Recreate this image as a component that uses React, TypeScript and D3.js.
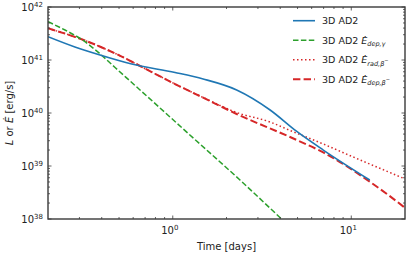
import React, { useEffect, useRef } from 'react';
import * as d3 from 'd3';

// 3D AD2 luminosity
const blueT = [0.2, 0.283, 0.383, 0.589, 1.03, 1.48, 2.28, 3.51, 4.95, 6.97, 12.7];
const blueL = [2.75e41, 1.76e41, 1.27e41, 8.4e40, 5.81e40, 4.38e40, 2.72e40, 1.14e40, 4.48e39, 2.0e39, 5.44e38];

// gamma deposition
const gammaT = [0.2, 0.249, 0.309, 0.383, 0.475, 0.589, 0.965, 1.36, 2.38, 4.07, 5.16];
const gammaL = [5.28e41, 3.68e41, 2.44e41, 1.39e41, 7.22e40, 3.76e40, 8.41e39, 2.96e39, 5.44e38, 1.0e38, 4.77e37];

// beta radiated
const betaRadT = [0.2, 0.322, 0.518, 0.727, 1.03, 1.52, 2.28, 3.51, 4.54, 6.97, 10.7, 19.6, 20];
const betaRadL = [3.96e41, 2.33e41, 1.16e41, 6.42e40, 3.52e40, 1.88e40, 1.02e40, 6.76e39, 4.68e39, 2.6e39, 1.39e39, 5.86e38, 5.69e38];

// beta deposited
const betaDepT = [0.2, 0.322, 0.518, 0.727, 1.03, 1.52, 2.28, 4.54, 6.97, 12.7, 19.6, 20];
const betaDepL = [3.96e41, 2.33e41, 1.16e41, 6.42e40, 3.52e40, 1.86e40, 9.57e39, 3.52e39, 1.8e39, 5.06e38, 1.71e38, 1.62e38];

const yMajor = [38, 39, 40, 41, 42];
const xMajor = [0, 1];

const App = () => {
  const svgRef = useRef<SVGSVGElement>(null);

  useEffect(() => {
    const svg = d3.select(svgRef.current);
    svg.selectAll('*').remove();

    const width = 407;
    const height = 254;
    const margin = { top: 7, right: 2, bottom: 35, left: 48 };
    const x0 = margin.left, x1 = width - margin.right;
    const y0 = margin.top, y1 = height - margin.bottom;
    const font = 'DejaVu Sans, sans-serif';
    const axisColor = '#3a3a3a';

    const x = d3.scaleLog().domain([0.2, 20]).range([x0, x1]);
    const y = d3.scaleLog().domain([1e38, 1e42]).range([y1, y0]);

    svg.append('clipPath').attr('id', 'plotclip')
      .append('rect').attr('x', x0).attr('y', y0).attr('width', x1 - x0).attr('height', y1 - y0);

    const line = d3.line<[number, number]>()
      .x(d => x(d[0]))
      .y(d => y(d[1]))
      .curve(d3.curveMonotoneX);

    const series = [
      { t: betaRadT, v: betaRadL, color: '#d62728', width: 1.5, dash: '1.5,2.5' },
      { t: betaDepT, v: betaDepL, color: '#d62728', width: 2, dash: '7.4,3.2' },
      { t: gammaT, v: gammaL, color: '#2ca02c', width: 1.5, dash: '5.5,2.4' },
      { t: blueT, v: blueL, color: '#1f77b4', width: 1.6, dash: null },
    ];

    const plot = svg.append('g').attr('clip-path', 'url(#plotclip)');
    series.forEach(s => {
      plot.append('path')
        .datum(s.t.map((t, i) => [t, s.v[i]] as [number, number]))
        .attr('d', line)
        .attr('fill', 'none')
        .attr('stroke', s.color)
        .attr('stroke-width', s.width)
        .attr('stroke-dasharray', s.dash);
    });

    // ticks (inward, all four sides)
    const ticks = svg.append('g').attr('stroke', axisColor).attr('stroke-width', 0.8);
    const yMinor: number[] = [];
    for (let e = 38; e < 42; e++) for (let m = 2; m < 10; m++) yMinor.push(m * Math.pow(10, e));
    const xMinor: number[] = [];
    for (let e = -1; e < 2; e++) for (let m = 2; m < 10; m++) {
      const v = m * Math.pow(10, e);
      if (v > 0.2 && v < 20) xMinor.push(v);
    }
    yMajor.forEach(p => {
      const yy = y(Math.pow(10, p));
      ticks.append('line').attr('x1', x0).attr('x2', x0 + 3.5).attr('y1', yy).attr('y2', yy);
      ticks.append('line').attr('x1', x1).attr('x2', x1 - 3.5).attr('y1', yy).attr('y2', yy);
    });
    yMinor.forEach(v => {
      const yy = y(v);
      ticks.append('line').attr('x1', x0).attr('x2', x0 + 2).attr('y1', yy).attr('y2', yy);
      ticks.append('line').attr('x1', x1).attr('x2', x1 - 2).attr('y1', yy).attr('y2', yy);
    });
    xMajor.forEach(p => {
      const xx = x(Math.pow(10, p));
      ticks.append('line').attr('x1', xx).attr('x2', xx).attr('y1', y1).attr('y2', y1 - 3.5);
      ticks.append('line').attr('x1', xx).attr('x2', xx).attr('y1', y0).attr('y2', y0 + 3.5);
    });
    xMinor.forEach(v => {
      const xx = x(v);
      ticks.append('line').attr('x1', xx).attr('x2', xx).attr('y1', y1).attr('y2', y1 - 2);
      ticks.append('line').attr('x1', xx).attr('x2', xx).attr('y1', y0).attr('y2', y0 + 2);
    });

    // frame
    svg.append('rect')
      .attr('x', x0).attr('y', y0).attr('width', x1 - x0).attr('height', y1 - y0)
      .attr('fill', 'none').attr('stroke', axisColor).attr('stroke-width', 1.4);

    // tick labels
    yMajor.forEach(p => {
      const t = svg.append('text')
        .attr('x', x0 - 14).attr('y', y(Math.pow(10, p)) + 4)
        .attr('text-anchor', 'end')
        .attr('font-family', font).attr('font-size', 10).attr('fill', '#222');
      t.append('tspan').text('10');
      t.append('tspan').attr('x', x0 - 14).attr('dy', -4.5).attr('font-size', 7).attr('text-anchor', 'start').text(String(p));
    });
    xMajor.forEach(p => {
      const xx = x(Math.pow(10, p));
      const t = svg.append('text')
        .attr('x', xx - 3).attr('y', y1 + 15)
        .attr('text-anchor', 'middle')
        .attr('font-family', font).attr('font-size', 10).attr('fill', '#222');
      t.append('tspan').text('10');
      t.append('tspan').attr('dy', -4.5).attr('font-size', 7).text(String(p));
    });

    // axis titles
    svg.append('text')
      .attr('x', (x0 + x1) / 2).attr('y', 250)
      .attr('text-anchor', 'middle')
      .attr('font-family', font).attr('font-size', 10).attr('fill', '#222')
      .text('Time [days]');

    const yl = svg.append('text')
      .attr('transform', `translate(13,${(y0 + y1) / 2}) rotate(-90)`)
      .attr('text-anchor', 'middle')
      .attr('font-family', font).attr('font-size', 10).attr('fill', '#222');
    yl.append('tspan').attr('font-style', 'italic').text('L');
    yl.append('tspan').text(' or ');
    yl.append('tspan').attr('font-style', 'italic').text('Ė');
    yl.append('tspan').text(' [erg/s]');

    // legend
    const legend = [
      { color: '#1f77b4', width: 1.6, dash: null, sub: null, sup: false },
      { color: '#2ca02c', width: 1.5, dash: '5.5,2.4', sub: 'dep,γ', sup: false },
      { color: '#d62728', width: 1.5, dash: '1.5,2.5', sub: 'rad,β', sup: true },
      { color: '#d62728', width: 2, dash: '7.4,3.2', sub: 'dep,β', sup: true },
    ];
    const lg = svg.append('g');
    legend.forEach((d, i) => {
      const yy = 20.7 + i * 19.5;
      lg.append('line')
        .attr('x1', 293).attr('x2', 315).attr('y1', yy).attr('y2', yy)
        .attr('stroke', d.color).attr('stroke-width', d.width).attr('stroke-dasharray', d.dash);
      const t = lg.append('text')
        .attr('x', 322).attr('y', yy + 3.5)
        .attr('font-family', font).attr('font-size', 9.5).attr('fill', '#222');
      t.append('tspan').text('3D AD2');
      if (d.sub) {
        t.append('tspan').attr('font-style', 'italic').text(' Ė');
        t.append('tspan').attr('font-style', 'italic').attr('font-size', 6.5).attr('dy', 2.5).text(d.sub);
        if (d.sup) t.append('tspan').attr('font-size', 5).attr('dy', -4).text('−');
      }
    });
  }, []);

  return (
    <svg ref={svgRef} width={407} height={254}
      style={{ position: 'absolute', left: 0, top: 0, background: 'white' }} />
  );
};

export default App;
